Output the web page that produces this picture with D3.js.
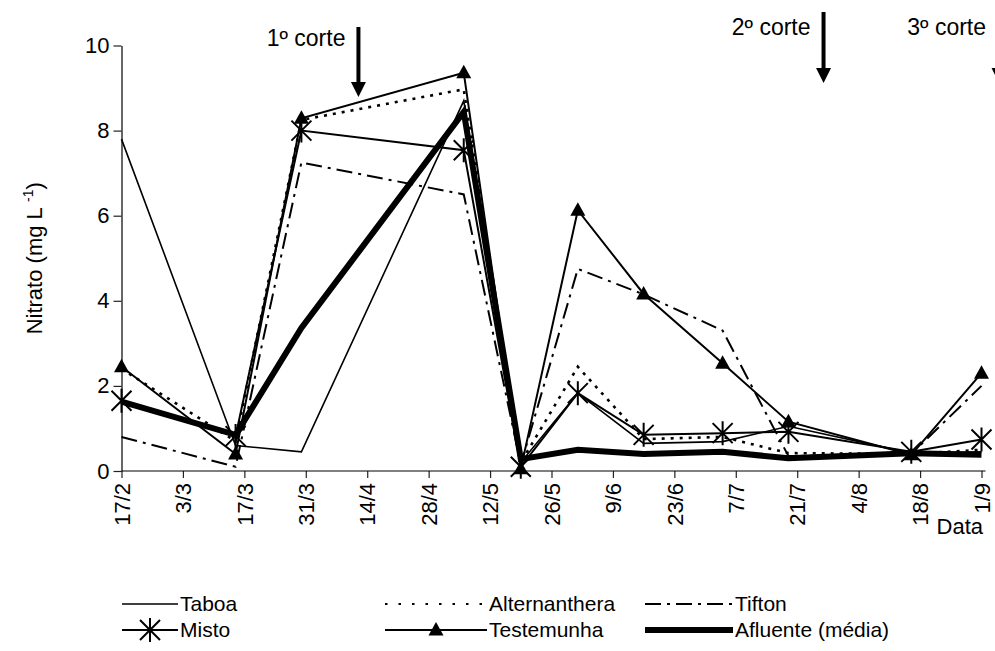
<!DOCTYPE html>
<html>
<head>
<meta charset="utf-8">
<script src="https://cdn.jsdelivr.net/npm/d3@7"></script>
<style>
  html, body { margin: 0; padding: 0; background: #fff; }
  svg text { font-family: "Liberation Sans", Arial, sans-serif; fill: #000; }
</style>
</head>
<body>
<script>
// Sampling dates (day/month, 2003) and nitrate concentrations (mg L-1)
const sampleDates = ["17/2", "15/3", "30/3", "6/5", "19/5", "1/6", "16/6", "4/7", "19/7", "16/8", "1/9"];
const taboa       = [7.8, 0.6, 0.45, 8.7, 0.2, 1.83, 0.65, 0.69, 1.05, 0.42, 0.45];
const alternanthera = [2.4, 0.7, 8.25, 8.97, 0.2, 2.45, 0.75, 0.8, 0.42, 0.4, 0.5];
const tifton      = [0.8, 0.1, 7.25, 6.5, 0.15, 4.75, 4.15, 3.3, 0.35, 0.4, 2.0];
const misto       = [1.65, 0.82, 8.0, 7.54, 0.1, 1.83, 0.85, 0.89, 0.92, 0.45, 0.74];
const testemunha  = [2.45, 0.4, 8.29, 9.36, 0.05, 6.13, 4.16, 2.53, 1.16, 0.38, 2.3];
const afluente    = [1.63, 0.85, 3.36, 8.44, 0.28, 0.5, 0.4, 0.45, 0.3, 0.42, 0.38];

const seriesNames = ["Taboa", "Alternanthera", "Tifton", "Misto", "Testemunha", "Afluente (média)"];
const tickLabels = ["17/2", "3/3", "17/3", "31/3", "14/4", "28/4", "12/5", "26/5", "9/6", "23/6", "7/7", "21/7", "4/8", "18/8", "1/9"];
const yTicks = [0, 2, 4, 6, 8, 10];

// Harvest events
const cutLabels = ["1º corte", "2º corte", "3º corte"];
const cutDates = ["12/4", "27/7", "5/9"];

const parseDay = s => d3.utcParse("%d/%m/%Y")(s + "/2003");

const W = 995, H = 651;
const svg = d3.select("body").append("svg").attr("width", W).attr("height", H);

const x = d3.scaleUtc()
  .domain([parseDay("17/2"), parseDay("1/9")])
  .range([121.5, 981.5]);
const y = d3.scaleLinear().domain([0, 10]).range([471, 45.5]);

// Axes
const xAxis = svg.append("g")
  .attr("transform", `translate(0,${y(0)})`)
  .call(d3.axisBottom(x)
    .tickValues(tickLabels.map(parseDay))
    .tickFormat(d3.utcFormat("%-d/%-m"))
    .tickSize(7).tickSizeOuter(0));
xAxis.select(".domain").remove();
xAxis.append("line")
  .attr("x1", x.range()[0]).attr("x2", x.range()[1] + 4)
  .attr("stroke", "#000").attr("stroke-width", 1.2);
xAxis.selectAll(".tick line").attr("stroke", "#222").attr("stroke-width", 1.2);
xAxis.selectAll(".tick text")
  .attr("transform", "rotate(-90)")
  .attr("text-anchor", "end")
  .attr("x", -12).attr("y", 0).attr("dy", "0.35em")
  .style("font-size", "22px");

const yAxis = svg.append("g")
  .attr("transform", `translate(${x.range()[0]},0)`)
  .call(d3.axisLeft(y).tickValues(yTicks).tickSize(8).tickSizeOuter(0).tickPadding(4));
yAxis.select(".domain").attr("stroke", "#000").attr("stroke-width", 1.2);
yAxis.selectAll(".tick line").attr("stroke", "#222").attr("stroke-width", 1.2);
yAxis.selectAll(".tick text").style("font-size", "22px");

// Axis titles
svg.append("text")
  .attr("transform", `translate(42,${(y(0) + y(10)) / 2}) rotate(-90)`)
  .attr("text-anchor", "middle")
  .style("font-size", "22px")
  .call(t => {
    t.append("tspan").text("Nitrato (mg L ");
    t.append("tspan").attr("dy", -9).style("font-size", "14px").text("-1");
    t.append("tspan").attr("dy", 9).text(")");
  });

svg.append("text")
  .attr("x", 983).attr("y", 534)
  .attr("text-anchor", "end")
  .style("font-size", "22px")
  .text("Data");

// Series definitions
const dates = sampleDates.map(parseDay);
const toPts = vals => vals.map((v, i) => ({ date: dates[i], v }));
const series = [
  { name: seriesNames[0], values: taboa, width: 1.6, dash: null, legendDash: null, marker: null },
  { name: seriesNames[1], values: alternanthera, width: 2.6, dash: "3,6", legendDash: "2.5,11", marker: null },
  { name: seriesNames[2], values: tifton, width: 2, dash: "16,6,3,6", legendDash: "16,6,3,6", marker: null },
  { name: seriesNames[3], values: misto, width: 2, dash: null, legendDash: null, marker: "star" },
  { name: seriesNames[4], values: testemunha, width: 2, dash: null, legendDash: null, marker: "triangle" },
  { name: seriesNames[5], values: afluente, width: 6, dash: null, legendDash: null, marker: null }
];

const line = d3.line().x(d => x(d.date)).y(d => y(d.v));

const starPath = "M-10,-10L10,10M-10,10L10,-10M0,-12L0,12";
const triPath = "M0,-8L7.5,5.5L-7.5,5.5Z";

function drawMarker(g, type) {
  if (type === "star") {
    g.append("path").attr("d", starPath).attr("fill", "none")
      .attr("stroke", "#000").attr("stroke-width", 2);
  } else if (type === "triangle") {
    g.append("path").attr("d", triPath).attr("fill", "#000");
  }
}

const plot = svg.append("g");
series.forEach(s => {
  plot.append("path")
    .datum(toPts(s.values))
    .attr("d", line)
    .attr("fill", "none")
    .attr("stroke", "#000")
    .attr("stroke-width", s.width)
    .attr("stroke-linejoin", "miter")
    .attr("stroke-dasharray", s.dash);
  if (s.marker) {
    toPts(s.values).forEach(p => {
      const g = plot.append("g").attr("transform", `translate(${x(p.date)},${y(p.v)})`);
      drawMarker(g, s.marker);
    });
  }
});

// Harvest arrows
const cutLayout = [
  { top: 27, tip: 97, labelY: 46 },
  { top: 12, tip: 83, labelY: 35 },
  { top: 12, tip: 83, labelY: 35 }
];
cutLabels.forEach((lab, i) => {
  const cx = x(parseDay(cutDates[i]));
  const L = cutLayout[i];
  svg.append("line")
    .attr("x1", cx).attr("x2", cx)
    .attr("y1", L.top).attr("y2", L.tip - 12)
    .attr("stroke", "#000").attr("stroke-width", 4);
  svg.append("path")
    .attr("d", `M${cx - 7.5},${L.tip - 15}L${cx + 7.5},${L.tip - 15}L${cx},${L.tip}Z`)
    .attr("fill", "#000");
  svg.append("text")
    .attr("x", cx - 13).attr("y", L.labelY)
    .attr("text-anchor", "end")
    .style("font-size", "23px")
    .text(lab);
});

// Legend
const legendCols = [122, 385, 645];
const legendLen = [56, 102, 88];
const legendRows = [604, 630];
series.forEach((s, i) => {
  const col = i % 3, row = Math.floor(i / 3);
  const x0 = legendCols[col], len = legendLen[col], ly = legendRows[row];
  const g = svg.append("g");
  g.append("line")
    .attr("x1", x0).attr("x2", x0 + len)
    .attr("y1", ly).attr("y2", ly)
    .attr("stroke", "#000")
    .attr("stroke-width", s.width === 2.6 ? 2 : s.width)
    .attr("stroke-dasharray", s.legendDash);
  if (s.marker) {
    const m = g.append("g").attr("transform", `translate(${x0 + len / 2},${ly})`);
    drawMarker(m, s.marker);
  }
  g.append("text")
    .attr("x", x0 + len + 2).attr("y", ly)
    .attr("dy", "0.35em")
    .style("font-size", "21px")
    .text(s.name);
});
</script>
</body>
</html>
